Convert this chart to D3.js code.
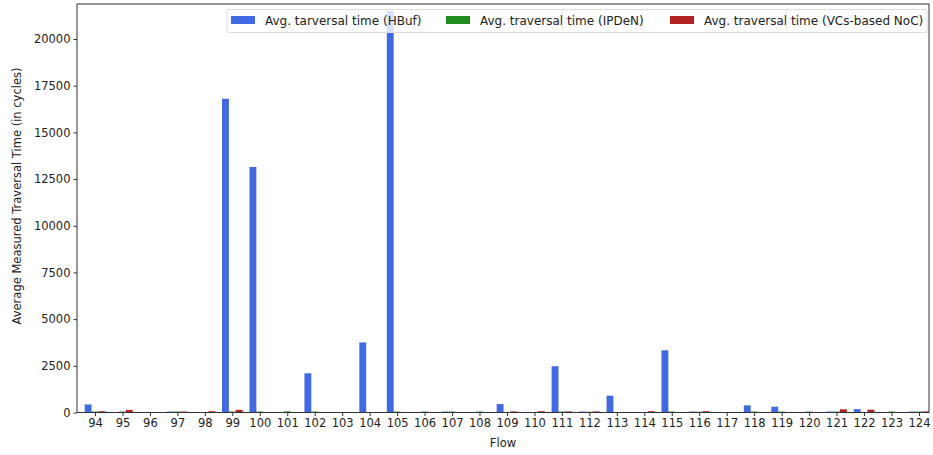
<!DOCTYPE html>
<html>
<head>
<meta charset="utf-8">
<script src="https://cdn.jsdelivr.net/npm/d3@7"></script>
<style>
  html, body { margin: 0; padding: 0; background: #fff; }
  svg { display: block; font-family: "DejaVu Sans", sans-serif; }
</style>
</head>
<body>
<svg id="chart" width="933" height="455"></svg>
<script>
const flows = ["94","95","96","97","98","99","100","101","102","103","104","105","106","107","108","109","110","111","112","113","114","115","116","117","118","119","120","121","122","123","124"];
const hbuf  = [430, 0, 0, 50, 0, 16800, 13150, 0, 2100, 0, 3750, 21500, 0, 50, 0, 450, 0, 2480, 50, 900, 0, 3330, 50, 0, 380, 310, 0, 50, 180, 0, 50];
const ipden = [50, 50, 0, 50, 0, 50, 50, 60, 50, 0, 0, 50, 50, 50, 50, 0, 0, 50, 40, 0, 0, 50, 40, 0, 50, 50, 50, 50, 0, 50, 50];
const vcs   = [70, 140, 0, 50, 70, 140, 0, 0, 0, 0, 0, 0, 0, 0, 0, 60, 70, 60, 60, 0, 70, 0, 70, 0, 0, 0, 0, 170, 150, 0, 60];
const seriesNames = ["Avg. tarversal time (HBuf)", "Avg. traversal time (IPDeN)", "Avg. traversal time (VCs-based NoC)"];
const seriesColors = ["#4169e1", "#228b22", "#b22222"];
const yTicks = [0, 2500, 5000, 7500, 10000, 12500, 15000, 17500, 20000];

const svg = d3.select("#chart");
const L = 77, R = 929, T = 4, B = 412.5;

const x = d3.scaleLinear().domain([-0.655, 30.365]).range([L, R]);
const y = d3.scaleLinear().domain([0, 21874]).range([B, T]);
const bw = 0.25;

const series = [hbuf, ipden, vcs];
const plot = svg.append("g");
plot.append("defs").append("clipPath").attr("id", "clip")
  .append("rect").attr("x", L).attr("y", T).attr("width", R - L).attr("height", B - T);

const bars = plot.append("g").attr("clip-path", "url(#clip)");
series.forEach((vals, s) => {
  bars.selectAll(null).data(vals).enter().append("rect")
    .attr("x", (d, i) => x(i + (s - 1) * bw - bw / 2))
    .attr("width", x(bw) - x(0))
    .attr("y", d => y(d))
    .attr("height", d => y(0) - y(d))
    .attr("fill", seriesColors[s]);
});

// axes
const xAxis = d3.axisBottom(x).tickValues(d3.range(flows.length)).tickFormat(i => flows[i]).tickSize(3.5).tickPadding(3);
const gx = svg.append("g").attr("transform", `translate(0,${B})`).call(xAxis);
gx.select(".domain").remove();
gx.selectAll("text").attr("font-size", "11.5px").attr("fill", "#222").attr("font-family", "DejaVu Sans, sans-serif");
gx.selectAll("line").attr("stroke", "#333");

const yAxis = d3.axisLeft(y).tickValues(yTicks).tickFormat(d3.format("d")).tickSize(3.5).tickPadding(3);
const gy = svg.append("g").attr("transform", `translate(${L},0)`).call(yAxis);
gy.select(".domain").remove();
gy.selectAll("text").attr("font-size", "11.5px").attr("fill", "#222").attr("font-family", "DejaVu Sans, sans-serif");
gy.selectAll("line").attr("stroke", "#333");

// frame
svg.append("rect").attr("x", L).attr("y", T).attr("width", R - L).attr("height", B - T)
  .attr("fill", "none").attr("stroke", "#333").attr("stroke-width", 1);

// axis labels
svg.append("text").attr("x", (L + R) / 2).attr("y", 447).attr("text-anchor", "middle")
  .attr("font-size", "11.5px").attr("fill", "#222").text("Flow");
svg.append("text").attr("transform", `translate(21,${196}) rotate(-90)`).attr("text-anchor", "middle")
  .attr("font-size", "11.5px").attr("fill", "#222").text("Average Measured Traversal Time (in cycles)");

// legend
const lg = svg.append("g");
lg.append("rect").attr("x", 227).attr("y", 9.5).attr("width", 700).attr("height", 23).attr("rx", 2)
  .attr("fill", "#fff").attr("fill-opacity", 0.8).attr("stroke", "#ddd");
const patchX = [231, 446, 670];
seriesNames.forEach((name, s) => {
  lg.append("rect").attr("x", patchX[s]).attr("y", 16).attr("width", 24).attr("height", 8).attr("fill", seriesColors[s]);
  lg.append("text").attr("x", patchX[s] + 34).attr("y", 25).attr("font-size", "12px").attr("fill", "#222").text(name);
});
</script>
</body>
</html>
